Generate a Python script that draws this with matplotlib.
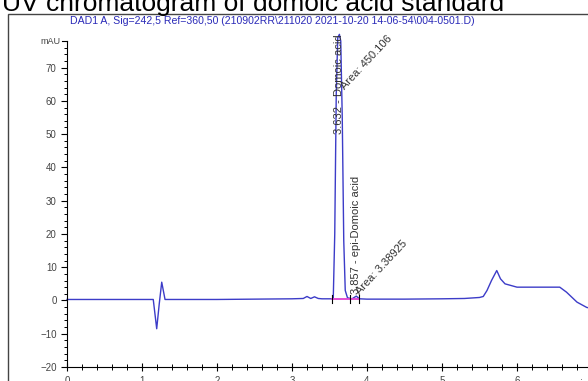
import matplotlib
matplotlib.use("Agg")
import matplotlib.pyplot as plt
from matplotlib.patches import Rectangle
from matplotlib.ticker import MultipleLocator

plt.rcParams["font.family"] = ["Liberation Sans", "DejaVu Sans"]

# retention time (min) and detector signal (mAU)
time_min = [0.00, 0.50, 1.00, 1.15, 1.196, 1.23, 1.263, 1.307, 1.40, 2.00,
            2.50, 3.00, 3.15, 3.20, 3.25, 3.30, 3.35, 3.40, 3.50, 3.55,
            3.57, 3.59, 3.61, 3.632, 3.65, 3.67, 3.69, 3.71, 3.74, 3.80,
            3.857, 3.90, 4.00, 4.50, 5.00, 5.30, 5.50, 5.55, 5.60, 5.66,
            5.73, 5.78, 5.84, 6.00, 6.30, 6.57, 6.66, 6.80, 6.93, 7.05]
signal_mau = [0.3, 0.3, 0.3, 0.3, -8.5, -1.0, 5.5, 0.3, 0.3, 0.3,
              0.4, 0.5, 0.6, 1.2, 0.6, 1.1, 0.6, 0.5, 0.5, 0.5,
              20.0, 62.0, 79.0, 80.0, 78.0, 55.0, 18.0, 3.0, 0.8, 0.5,
              1.3, 0.5, 0.4, 0.4, 0.5, 0.6, 0.9, 1.2, 3.0, 6.0,
              9.0, 6.5, 5.0, 4.0, 4.0, 4.0, 2.5, -0.5, -2.1, -2.6]

# integration baseline boundaries in minutes
peak_bounds = [3.53, 3.77, 3.89]
baseline_level = 0.5

peak_labels = ["3.632 - Domoic acid", "3.857 - epi-Domoic acid"]
peak_times = [3.632, 3.857]
peak_areas = ["Area: 450.106", "Area: 3.38925"]

yticks = [-20, -10, 0, 10, 20, 30, 40, 50, 60, 70]
xticks = [0, 1, 2, 3, 4, 5, 6]

header = "DAD1 A, Sig=242,5 Ref=360,50 (210902RR\\211020 2021-10-20 14-06-54\\004-0501.D)"

fig = plt.figure(figsize=(5.88, 3.81), dpi=100)

# outer frame of the report
fig.patches.append(Rectangle((8 / 588, -0.1), 1.0, 1 - 14 / 381 + 0.1,
                             transform=fig.transFigure, fill=False,
                             edgecolor="#444444", linewidth=1.0))

fig.text(0.003, 1 - 11 / 381, "UV chromatogram of domoic acid standard",
         fontsize=19, color="black", va="baseline", ha="left")
fig.text(70 / 588, 1 - 21.5 / 381, header, fontsize=7.6, color="#2a2ab8",
         va="center", ha="left")

ax = fig.add_axes([67 / 588, 14 / 381, (592 - 67) / 588, (367 - 41) / 381])
ax.plot(time_min, signal_mau, color="#3c3cc8", linewidth=1.0, clip_on=False)

# integration baseline and boundary marks
ax.plot([peak_bounds[0], peak_bounds[-1]], [baseline_level] * 2,
        color="#e040d0", linewidth=1.3)
for b in peak_bounds:
    ax.plot([b, b], [baseline_level - 1.2, baseline_level + 1.2],
            color="black", linewidth=0.8)

ax.text(peak_times[0], 50, peak_labels[0], rotation=90, fontsize=8,
        color="#333333", ha="center", va="bottom")
ax.text(peak_times[0] + 0.1, 63, peak_areas[0], rotation=47, fontsize=8,
        color="#333333", ha="left", va="bottom", rotation_mode="anchor")
ax.text(peak_times[1] - 0.01, 2.0, peak_labels[1], rotation=90, fontsize=8,
        color="#333333", ha="center", va="bottom")
ax.text(peak_times[1] + 0.07, 1.3, peak_areas[1], rotation=47, fontsize=8,
        color="#333333", ha="left", va="bottom", rotation_mode="anchor")

ax.set_xlim(0, 7)
ax.set_ylim(-20, 78)
ax.set_yticks(yticks)
ax.set_xticks(xticks)
ax.xaxis.set_minor_locator(MultipleLocator(0.2))
ax.yaxis.set_minor_locator(MultipleLocator(2))
ax.tick_params(axis="both", labelsize=7, labelcolor="#444444", length=4,
               width=0.8, color="black")
ax.tick_params(axis="both", which="minor", length=2.5, width=0.7)
ax.tick_params(axis="x", direction="inout", length=6)
ax.tick_params(axis="x", which="minor", direction="inout", length=4)
ax.spines["top"].set_visible(False)
ax.spines["right"].set_visible(False)
ax.spines["left"].set_color("black")
ax.spines["bottom"].set_color("black")

ax.text(-0.012, 78, "mAU", transform=ax.get_yaxis_transform(), fontsize=6.5,
        color="#444444", ha="right", va="center")
ax.plot([-0.01, 0], [78, 78], transform=ax.get_yaxis_transform(),
        color="black", linewidth=0.8, clip_on=False)
ax.text(6.75, -23.5, "min", fontsize=6.5, color="#444444", ha="left",
        va="top", clip_on=False)

fig.savefig("out.png", dpi=100)
